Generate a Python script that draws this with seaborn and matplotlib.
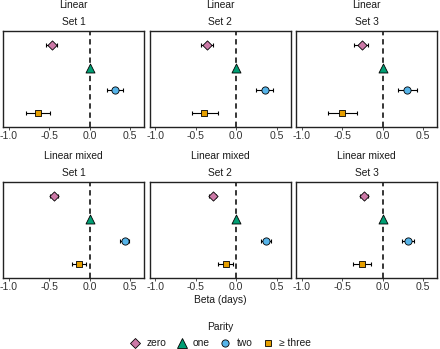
import numpy as np
import pandas as pd
import matplotlib
matplotlib.use("Agg")
import matplotlib.pyplot as plt
import seaborn as sns
from matplotlib.lines import Line2D

# ---- data ----
parities = ["zero", "one", "two", "≥ three"]
models = ["Linear", "Linear mixed"]
sets = ["Set 1", "Set 2", "Set 3"]

# estimates (parity order) for each set
lin_est = [[-0.47, 0.0, 0.31, -0.64], [-0.36, 0.0, 0.35, -0.40], [-0.26, 0.0, 0.30, -0.50]]
lin_lo = [[-0.54, 0.0, 0.21, -0.79], [-0.43, 0.0, 0.25, -0.55], [-0.35, 0.0, 0.19, -0.68]]
lin_hi = [[-0.40, 0.0, 0.41, -0.49], [-0.29, 0.0, 0.46, -0.23], [-0.18, 0.0, 0.42, -0.32]]
mix_est = [[-0.44, 0.0, 0.43, -0.13], [-0.29, 0.0, 0.37, -0.13], [-0.23, 0.0, 0.31, -0.26]]
mix_lo = [[-0.49, 0.0, 0.37, -0.22], [-0.335, 0.0, 0.31, -0.23], [-0.28, 0.0, 0.24, -0.37]]
mix_hi = [[-0.39, 0.0, 0.49, -0.04], [-0.245, 0.0, 0.43, -0.04], [-0.18, 0.0, 0.38, -0.15]]

xticks = [-1.0, -0.5, 0.0, 0.5]
xtick_labels = ["-1.0", "-0.5", "0.0", "0.5"]

colors = {"zero": "#CC79A7", "one": "#009E73", "two": "#56B4E9", "≥ three": "#E69F00"}
markers = {"zero": "D", "one": "^", "two": "o", "≥ three": "s"}
msizes = {"zero": 22, "one": 42, "two": 27, "≥ three": 25}

rows = []
for m, (E, L, H) in zip(models, [(lin_est, lin_lo, lin_hi), (mix_est, mix_lo, mix_hi)]):
    for si, s in enumerate(sets):
        for pi, p in enumerate(parities):
            rows.append(dict(model=m, set=s, parity=p, pos=pi,
                             est=E[si][pi], lo=L[si][pi], hi=H[si][pi]))
df = pd.DataFrame(rows)

sns.set_theme(style="white")
plt.rcParams["font.family"] = ["Liberation Sans", "DejaVu Sans"]
txt = "#1a1a1a"

fig = plt.figure(figsize=(4.4, 3.49), dpi=100)
W, H = 440, 349
lefts = [3, 149.5, 296]
pw = 141
tops = [31, 182]
ph = 96

for ri, m in enumerate(models):
    for ci, s in enumerate(sets):
        ax = fig.add_axes([lefts[ci] / W, 1 - (tops[ri] + ph) / H, pw / W, ph / H])
        d = df[(df.model == m) & (df.set == s)]
        ax.axvline(0, color="black", lw=1.1, ls=(0, (3.5, 2.5)), zorder=1)
        for _, r in d.iterrows():
            if r.hi > r.lo:
                ax.errorbar(r.est, r.pos, xerr=[[r.est - r.lo], [r.hi - r.est]],
                            fmt="none", ecolor="black", elinewidth=0.8,
                            capsize=1.6, capthick=0.8, zorder=2)
        for p in parities:
            dp = d[d.parity == p]
            sns.scatterplot(data=dp, x="est", y="pos", ax=ax, marker=markers[p],
                            color=colors[p], s=msizes[p], edgecolor="black",
                            linewidth=0.6, zorder=3, legend=False)
        ax.set_xlim(-1.07, 0.67)
        ax.set_ylim(3.6, -0.6)
        ax.set_yticks([])
        ax.set_xticks(xticks)
        ax.set_xticklabels(xtick_labels, fontsize=7.6, color="#333333")
        ax.tick_params(axis="x", length=2, width=0.6, pad=1.2, color="#333333", bottom=True)
        ax.set_xlabel("")
        ax.set_ylabel("")
        for sp in ax.spines.values():
            sp.set_color("#222222")
            sp.set_linewidth(1.0)
        ax.annotate(s, xy=(0.5, 1), xycoords="axes fraction", xytext=(0, 6.4),
                    textcoords="offset points", ha="center", va="center",
                    fontsize=7.4, color=txt)
        ax.annotate(m, xy=(0.5, 1), xycoords="axes fraction", xytext=(0, 18.8),
                    textcoords="offset points", ha="center", va="center",
                    fontsize=7.4, color=txt)

fig.text(220.5 / W, 1 - 300 / H, "Beta (days)", ha="center", va="center",
         fontsize=7.4, color=txt)

handles = [Line2D([], [], ls="none", marker=markers[p], markerfacecolor=colors[p],
                  markeredgecolor="black", markeredgewidth=0.6,
                  markersize=np.sqrt(msizes[p])) for p in parities]
leg = fig.legend(handles, parities, loc="lower center", bbox_to_anchor=(0.5, -0.025),
                 ncol=4, frameon=False, title="Parity", fontsize=7.4,
                 title_fontsize=7.4, handletextpad=0.5, columnspacing=0.9,
                 handlelength=1.2, labelspacing=0.3)
leg._legend_box.sep = 5
for t in leg.get_texts():
    t.set_color(txt)
leg.get_title().set_color(txt)

fig.savefig("out.png", dpi=100)
